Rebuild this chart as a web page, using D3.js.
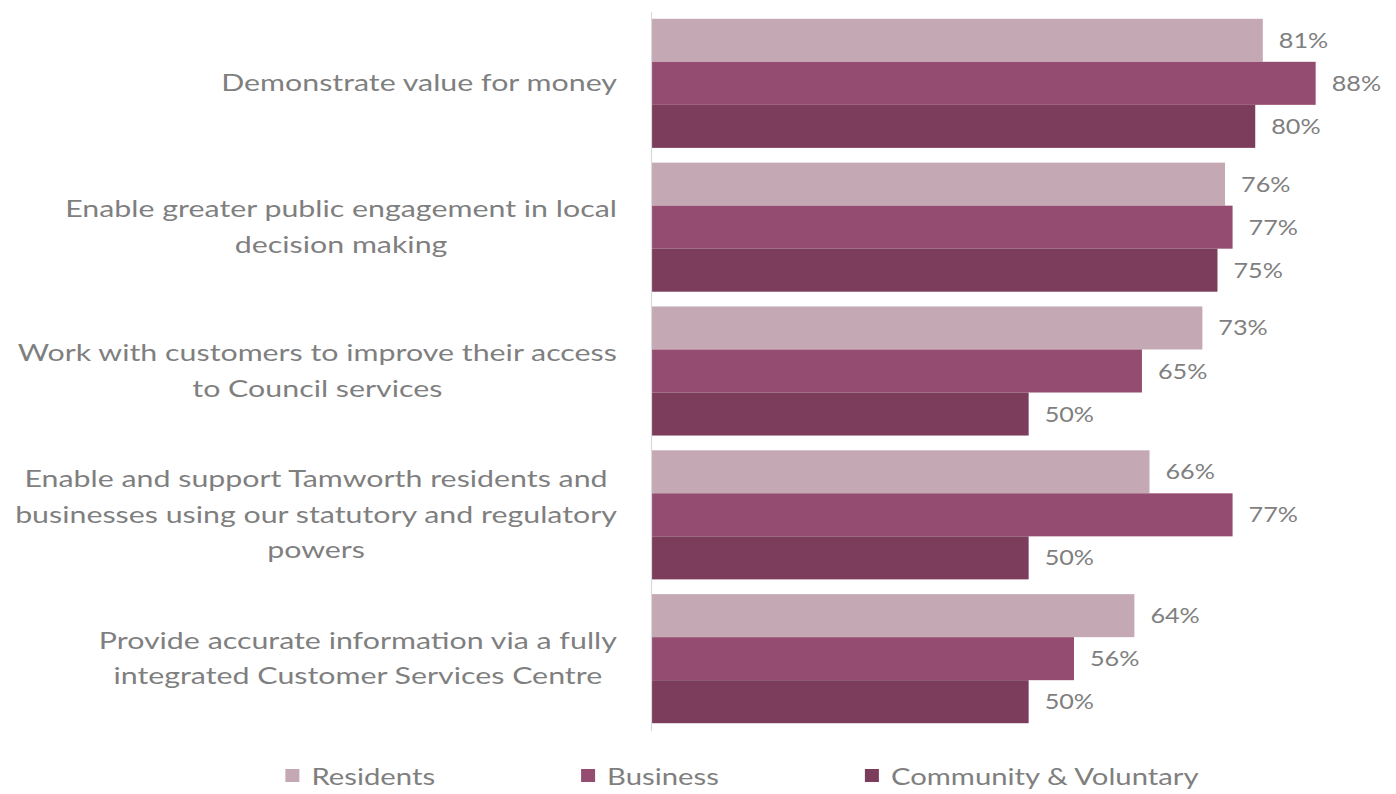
<!DOCTYPE html>
<html>
<head>
<meta charset="utf-8">
<script src="https://cdn.jsdelivr.net/npm/d3@7/dist/d3.min.js"></script>
<style>
  html, body { margin: 0; padding: 0; background: #ffffff; }
  svg { display: block; }
</style>
</head>
<body>
<svg id="chart" width="1396" height="794"></svg>
<script>
// ---- data ----
const categories = [
  "Demonstrate value for money",
  "Enable greater public engagement in local decision making",
  "Work with customers to improve their access to Council services",
  "Enable and support Tamworth residents and businesses using our statutory and regulatory powers",
  "Provide accurate information via a fully integrated Customer Services Centre"
];
const categoryLines = [
  ["Demonstrate value for money"],
  ["Enable greater public engagement in local", "decision making"],
  ["Work with customers to improve their access", "to Council services"],
  ["Enable and support Tamworth residents and", "businesses using our statutory and regulatory", "powers"],
  ["Provide accurate information via a fully", "integrated Customer Services Centre"]
];
const seriesNames = ["Residents", "Business", "Community & Voluntary"];
const residents = [81, 76, 73, 66, 64];
const business  = [88, 77, 65, 77, 56];
const community = [80, 75, 50, 50, 50];
const seriesValues = [residents, business, community];
const colors = ["#c4a9b4", "#944d70", "#7b3d5b"];

// ---- layout ----
const svg = d3.select("#chart");
const textColor = "#7f7f7f";
const fontFamily = "Lato, 'Open Sans', sans-serif";
const sx = 1.32; // horizontal stretch of the original picture

const x = d3.scaleLinear().domain([0, 100]).range([651, 1406.3]);
const y0 = d3.scaleBand().domain(categories).range([11.6, 730.4]).paddingInner(0.1026).paddingOuter(0.05);
const y1 = d3.scaleBand().domain(seriesNames).range([0, y0.bandwidth()]).padding(0);

const rows = categories.map((c, i) => ({
  cat: c,
  lines: categoryLines[i],
  vals: seriesNames.map((s, j) => ({ series: s, value: seriesValues[j][i], color: colors[j] }))
}));

// bars
const groups = svg.append("g").selectAll("g.grp").data(rows).join("g")
  .attr("class", "grp")
  .attr("transform", d => `translate(0,${y0(d.cat)})`);

groups.selectAll("rect").data(d => d.vals).join("rect")
  .attr("x", x(0))
  .attr("y", d => y1(d.series))
  .attr("width", d => x(d.value) - x(0))
  .attr("height", y1.bandwidth())
  .attr("fill", d => d.color);

// value labels
groups.selectAll("text.val").data(d => d.vals).join("text")
  .attr("class", "val")
  .attr("transform", d => `translate(${x(d.value) + 16},${y1(d.series) + y1.bandwidth() / 2 + 7.5}) scale(1.2,1)`)
  .attr("font-family", fontFamily)
  .attr("font-size", 21)
  .attr("fill", textColor)
  .text(d => d.value + "%");

// axis line
const yAxis = d3.axisLeft(y0).tickSize(0).tickFormat("");
const axisG = svg.append("g").attr("transform", `translate(${x(0)},0)`).call(yAxis);
axisG.select(".domain").attr("stroke", "#d9d9d9").attr("stroke-width", 1.2);

// category labels (centered lines, block right-aligned to axis)
const labelSize = 23;
const lineH = 35.5;
const blockRight = 617;
rows.forEach(r => {
  const g = svg.append("g");
  const cy = y0(r.cat) + y0.bandwidth() / 2;
  const n = r.lines.length;
  const texts = r.lines.map((ln, k) => g.append("text")
    .attr("font-family", fontFamily)
    .attr("font-size", labelSize)
    .attr("fill", textColor)
    .attr("text-anchor", "middle")
    .text(ln));
  const maxW = d3.max(texts, t => t.node().getComputedTextLength()) * sx;
  const cx = blockRight - maxW / 2;
  texts.forEach((t, k) => {
    const yy = cy + (k - (n - 1) / 2) * lineH + 8;
    t.attr("transform", `translate(${cx},${yy}) scale(${sx},1)`);
  });
});

// legend
const legendY = 776;
const legendSx = 1.22;
const legendG = svg.append("g");
const items = seriesNames.map((s, i) => {
  const g = legendG.append("g");
  g.append("rect").attr("x", 0).attr("y", legendY - 7).attr("width", 14).attr("height", 13).attr("fill", colors[i]);
  const t = g.append("text")
    .attr("font-family", fontFamily)
    .attr("font-size", 24)
    .attr("fill", textColor)
    .text(s);
  t.attr("transform", `translate(26,${legendY + 9}) scale(${legendSx},1)`);
  return { g, w: 26 + t.node().getComputedTextLength() * legendSx };
});
const gap = 146;
const totalW = d3.sum(items, d => d.w) + gap * (items.length - 1);
let lx = 742 - totalW / 2;
items.forEach(it => {
  it.g.attr("transform", `translate(${lx},0)`);
  lx += it.w + gap;
});
</script>
</body>
</html>
